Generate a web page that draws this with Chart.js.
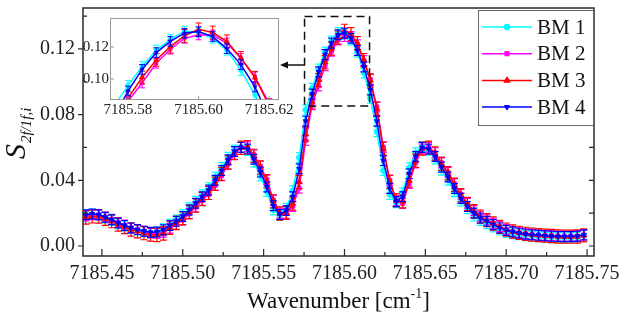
<!DOCTYPE html>
<html>
<head>
<meta charset="utf-8">
<script src="https://cdn.jsdelivr.net/npm/chart.js@4.4.1/dist/chart.umd.min.js"></script>
<style>
  html, body { margin: 0; padding: 0; background: #fff; }
  #wrap { position: relative; width: 622px; height: 320px; }
  #inset { position: absolute; left: 70px; top: 10px; }
</style>
</head>
<body>
<div id="wrap">
  <canvas id="main" width="622" height="320"></canvas>
  <canvas id="inset" width="234" height="115"></canvas>
</div>
<script>
/* globals Chart:false */
const wavenumber = [
  7185.440, 7185.444, 7185.448, 7185.452, 7185.456, 7185.460, 7185.464, 7185.468, 7185.472, 7185.476,
  7185.480, 7185.484, 7185.488, 7185.492, 7185.496, 7185.500, 7185.504, 7185.508, 7185.512, 7185.516,
  7185.520, 7185.524, 7185.528, 7185.532, 7185.536, 7185.540, 7185.544, 7185.548, 7185.552, 7185.556,
  7185.560, 7185.564, 7185.568, 7185.572, 7185.576, 7185.580, 7185.584, 7185.588, 7185.592, 7185.596,
  7185.600, 7185.604, 7185.608, 7185.612, 7185.616, 7185.620, 7185.624, 7185.628, 7185.632, 7185.636,
  7185.640, 7185.644, 7185.648, 7185.652, 7185.656, 7185.660, 7185.664, 7185.668, 7185.672, 7185.676,
  7185.680, 7185.684, 7185.688, 7185.692, 7185.696, 7185.700, 7185.704, 7185.708, 7185.712, 7185.716,
  7185.720, 7185.724, 7185.728, 7185.732, 7185.736, 7185.740, 7185.744, 7185.748
];
const bm1 = [
  .0192, .0195, .0187, .0171, .0155, .0135, .0121, .0106, .0097, .0087,
  .0082, .0087, .0104, .0133, .0158, .0191, .0232, .0272, .0312, .0355,
  .0418, .0478, .0540, .0584, .0602, .0581, .0510, .0426, .0332, .0220,
  .0186, .0230, .0336, .0539, .0829, .0960, .1078, .1181, .1248, .1300,
  .1290, .1254, .1180, .1054, .0900, .0696, .0459, .0314, .0263, .0324,
  .0476, .0568, .0606, .0583, .0530, .0462, .0401, .0331, .0274, .0227,
  .0182, .0155, .0136, .0116, .0097, .0083, .0074, .0068, .0063, .0059,
  .0056, .0053, .0051, .0050, .0049, .0050, .0053, .0063
];
const bm2 = [
  .0183, .0190, .0190, .0177, .0163, .0143, .0127, .0111, .0100, .0089,
  .0079, .0076, .0084, .0108, .0132, .0159, .0197, .0237, .0277, .0313,
  .0368, .0428, .0498, .0557, .0600, .0604, .0555, .0486, .0403, .0280,
  .0200, .0198, .0241, .0352, .0642, .0860, .0975, .1098, .1186, .1254,
  .1275, .1275, .1225, .1129, .1014, .0847, .0602, .0399, .0276, .0259,
  .0381, .0506, .0591, .0601, .0568, .0507, .0449, .0379, .0315, .0260,
  .0216, .0181, .0159, .0139, .0118, .0101, .0089, .0081, .0075, .0070,
  .0066, .0064, .0062, .0060, .0059, .0059, .0060, .0066
];
const bm3 = [
  .0173, .0180, .0179, .0165, .0151, .0131, .0115, .0100, .0089, .0078,
  .0069, .0067, .0076, .0111, .0140, .0168, .0206, .0246, .0286, .0323,
  .0379, .0439, .0508, .0565, .0598, .0601, .0549, .0478, .0393, .0272,
  .0198, .0202, .0258, .0390, .0680, .0880, .1010, .1119, .1202, .1269,
  .1310, .1290, .1235, .1132, .1008, .0835, .0592, .0392, .0279, .0272,
  .0398, .0519, .0593, .0599, .0563, .0501, .0443, .0373, .0309, .0256,
  .0212, .0179, .0157, .0137, .0116, .0100, .0088, .0080, .0074, .0069,
  .0066, .0063, .0061, .0058, .0057, .0057, .0058, .0065
];
const bm4 = [
  .0190, .0195, .0190, .0175, .0160, .0140, .0125, .0110, .0100, .0090,
  .0083, .0085, .0098, .0125, .0150, .0180, .0220, .0260, .0300, .0340,
  .0400, .0460, .0525, .0575, .0600, .0590, .0528, .0450, .0360, .0245,
  .0192, .0216, .0300, .0470, .0760, .0925, .1060, .1165, .1235, .1286,
  .1296, .1265, .1190, .1090, .0950, .0760, .0520, .0350, .0270, .0300,
  .0440, .0545, .0600, .0590, .0545, .0480, .0420, .0350, .0290, .0240,
  .0200, .0170, .0150, .0130, .0110, .0095, .0085, .0078, .0072, .0068,
  .0065, .0062, .0060, .0058, .0057, .0058, .0060, .0068
];
const seriesNames = ['BM 1', 'BM 2', 'BM 3', 'BM 4'];
const seriesErr = [0.003, 0.003, 0.004, 0.003];
const xTicks = [7185.45, 7185.50, 7185.55, 7185.60, 7185.65, 7185.70, 7185.75];
const yTicks = [0.00, 0.04, 0.08, 0.12];
const insetXTicks = [7185.58, 7185.60, 7185.62];
const insetYTicks = [0.10, 0.12];

const values = [bm1, bm2, bm3, bm4];
const colors = ['#00ffff', '#ff00ff', '#ff0000', '#0000ff'];
const markers = ['circle', 'rect', 'triangle', 'triangle'];
const markerRot = [0, 0, 0, 180];
const serif = '"Liberation Serif", "Times New Roman", serif';

function buildDatasets(r, lw) {
  return values.map((vals, i) => ({
    label: seriesNames[i],
    data: vals.map((v, j) => ({ x: wavenumber[j], y: v })),
    borderColor: colors[i],
    backgroundColor: colors[i],
    borderWidth: lw,
    pointStyle: markers[i],
    pointRotation: markerRot[i],
    pointRadius: i === 2 ? r + 0.6 : r,
    pointBorderWidth: 1,
    errBar: seriesErr[i],
    order: 4 - i,
    tension: 0,
    clip: 0
  }));
}

// vertical error bars, drawn right after each dataset
const errorBars = {
  id: 'errorBars',
  afterDatasetDraw(chart, args, opts) {
    const ds = chart.data.datasets[args.index];
    const ys = chart.scales.y, area = chart.chartArea, ctx = chart.ctx;
    ctx.save();
    ctx.beginPath();
    ctx.rect(area.left, area.top, area.width, area.height);
    ctx.clip();
    ctx.strokeStyle = ds.borderColor;
    ctx.lineWidth = opts.width;
    ctx.beginPath();
    args.meta.data.forEach((pt, j) => {
      const v = ds.data[j].y;
      const t = ys.getPixelForValue(v + ds.errBar), b = ys.getPixelForValue(v - ds.errBar);
      ctx.moveTo(pt.x, t); ctx.lineTo(pt.x, b);
      ctx.moveTo(pt.x - opts.cap, t); ctx.lineTo(pt.x + opts.cap, t);
      ctx.moveTo(pt.x - opts.cap, b); ctx.lineTo(pt.x + opts.cap, b);
    });
    ctx.stroke();
    ctx.restore();
  }
};

function line(ctx, x1, y1, x2, y2) {
  ctx.moveTo(x1, y1); ctx.lineTo(x2, y2);
}

const mainDeco = {
  id: 'mainDeco',
  afterDraw(chart) {
    const ctx = chart.ctx, a = chart.chartArea;
    const xs = chart.scales.x, ys = chart.scales.y;
    ctx.save();
    // frame
    ctx.strokeStyle = '#2a2a2a';
    ctx.lineWidth = 1.5;
    ctx.strokeRect(a.left, a.top, a.width, a.height);
    ctx.lineWidth = 1.2;
    ctx.beginPath();
    xTicks.forEach((v, i) => {
      const px = xs.getPixelForValue(v);
      line(ctx, px, a.bottom, px, a.bottom - 7);
      if (i < xTicks.length - 1) {
        const mx = xs.getPixelForValue((v + xTicks[i + 1]) / 2);
        line(ctx, mx, a.bottom, mx, a.bottom - 4);
      }
    });
    yTicks.forEach((v, i) => {
      const py = ys.getPixelForValue(v);
      line(ctx, a.left, py, a.left - 5, py);
      const my = ys.getPixelForValue(v + 0.02);
      line(ctx, a.left, my, a.left + 4, my);
      line(ctx, a.right, py, a.right - 5, py);
      line(ctx, a.right, my, a.right - 5, my);
    });
    ctx.stroke();

    // zoom box and arrow
    ctx.strokeStyle = '#111';
    ctx.lineWidth = 1.5;
    ctx.setLineDash([8, 5]);
    const bx1 = xs.getPixelForValue(7185.5753), bx2 = xs.getPixelForValue(7185.6155);
    const by1 = ys.getPixelForValue(0.1398), by2 = ys.getPixelForValue(0.0852);
    ctx.strokeRect(bx1, by1, bx2 - bx1, by2 - by1);
    ctx.setLineDash([]);
    ctx.beginPath();
    line(ctx, bx1, 65, 286, 65);
    ctx.stroke();
    ctx.fillStyle = '#111';
    ctx.beginPath();
    ctx.moveTo(280, 65); ctx.lineTo(288, 61.5); ctx.lineTo(288, 68.5); ctx.closePath();
    ctx.fill();

    // legend
    ctx.fillStyle = '#fff';
    ctx.fillRect(478, 10, 115, 115);
    ctx.strokeStyle = '#666';
    ctx.lineWidth = 1;
    ctx.strokeRect(478.5, 10.5, 115, 115);
    seriesNames.forEach((name, i) => {
      const y = 27 + i * 26.7;
      ctx.strokeStyle = colors[i];
      ctx.fillStyle = colors[i];
      ctx.lineWidth = 1.5;
      ctx.beginPath();
      line(ctx, 482, y, 532, y);
      ctx.stroke();
      ctx.lineWidth = 1;
      Chart.helpers.drawPoint(ctx, { pointStyle: markers[i], rotation: markerRot[i], radius: i === 2 ? 3.6 : 3, borderWidth: 1 }, 507, y);
      ctx.fillStyle = '#111';
      ctx.font = '21px ' + serif;
      ctx.textAlign = 'left';
      ctx.textBaseline = 'middle';
      ctx.fillText(name, 537, y + 1);
    });

    // axis titles
    ctx.fillStyle = '#111';
    ctx.textBaseline = 'alphabetic';
    ctx.font = '23px ' + serif;
    const t1 = 'Wavenumber [cm', t3 = ']';
    const w1 = ctx.measureText(t1).width, w3 = ctx.measureText(t3).width;
    ctx.font = '14px ' + serif;
    const w2 = ctx.measureText('-1').width;
    let sx = (a.left + a.right) / 2 - (w1 + w2 + w3) / 2;
    ctx.font = '23px ' + serif;
    ctx.fillText(t1, sx, 308);
    ctx.font = '14px ' + serif;
    ctx.fillText('-1', sx + w1, 298);
    ctx.font = '23px ' + serif;
    ctx.fillText(t3, sx + w1 + w2, 308);

    ctx.translate(25, 159);
    ctx.rotate(-Math.PI / 2);
    ctx.font = 'italic 30px ' + serif;
    ctx.fillText('S', 0, 0);
    const ws = ctx.measureText('S').width;
    ctx.font = 'italic 15px ' + serif;
    ctx.fillText('2f/1f,i', ws + 1, 6);
    ctx.restore();
  }
};

const insetDeco = {
  id: 'insetDeco',
  beforeDatasetsDraw(chart) {
    const ctx = chart.ctx, a = chart.chartArea;
    ctx.save();
    ctx.fillStyle = '#fff';
    ctx.fillRect(a.left, a.top, a.width, a.height);
    ctx.restore();
  },
  afterDraw(chart) {
    const ctx = chart.ctx, a = chart.chartArea;
    const xs = chart.scales.x, ys = chart.scales.y;
    ctx.save();
    ctx.strokeStyle = '#999';
    ctx.lineWidth = 1;
    ctx.strokeRect(a.left + 0.5, a.top + 0.5, a.width - 1, a.height - 1);
    ctx.beginPath();
    insetXTicks.forEach(v => {
      const px = xs.getPixelForValue(v);
      line(ctx, px, a.bottom, px, a.bottom - 4);
    });
    insetYTicks.forEach(v => {
      const py = ys.getPixelForValue(v);
      line(ctx, a.left, py, a.left + 4, py);
    });
    ctx.stroke();
    ctx.restore();
  }
};

function tickList(list) {
  return s => { s.ticks = list.map(v => ({ value: v })); };
}
function fixSize(prop, size) {
  return s => {
    s[prop] = size;
    s.paddingTop = 0; s.paddingBottom = 0; s.paddingLeft = 0; s.paddingRight = 0;
  };
}

new Chart(document.getElementById('main'), {
  type: 'line',
  data: { datasets: buildDatasets(2.8, 1.5) },
  options: {
    responsive: false,
    animation: false,
    devicePixelRatio: 1,
    layout: { padding: { top: 8, right: 28, left: 0, bottom: 0 } },
    plugins: { legend: { display: false }, tooltip: { enabled: false }, errorBars: { cap: 3.5, width: 1.2 } },
    scales: {
      x: {
        type: 'linear', min: 7185.4383, max: 7185.7543,
        afterBuildTicks: tickList(xTicks),
        afterFit: fixSize('height', 64),
        grid: { display: false, drawTicks: false }, border: { display: false },
        ticks: { font: { family: serif, size: 20 }, color: '#222', padding: 6, maxRotation: 0, autoSkip: false,
          callback: v => v.toFixed(2) }
      },
      y: {
        min: -0.0061, max: 0.1449,
        afterBuildTicks: tickList(yTicks),
        afterFit: fixSize('width', 83),
        grid: { display: false, drawTicks: false }, border: { display: false },
        ticks: { font: { family: serif, size: 20 }, color: '#222', padding: 8,
          callback: v => v.toFixed(2) }
      }
    }
  },
  plugins: [errorBars, mainDeco]
});

new Chart(document.getElementById('inset'), {
  type: 'line',
  data: { datasets: buildDatasets(2.2, 1.5) },
  options: {
    responsive: false,
    animation: false,
    devicePixelRatio: 1,
    layout: { padding: { top: 8, right: 25, left: 0, bottom: 0 } },
    plugins: { legend: { display: false }, tooltip: { enabled: false }, errorBars: { cap: 3, width: 1 } },
    scales: {
      x: {
        type: 'linear', min: 7185.5749, max: 7185.6228,
        afterBuildTicks: tickList(insetXTicks),
        afterFit: fixSize('height', 25),
        grid: { display: false, drawTicks: false }, border: { display: false },
        ticks: { font: { family: serif, size: 15 }, color: '#222', padding: 1, maxRotation: 0, autoSkip: false,
          callback: v => v.toFixed(2) }
      },
      y: {
        min: 0.0869, max: 0.1381,
        afterBuildTicks: tickList(insetYTicks),
        afterFit: fixSize('width', 40),
        grid: { display: false, drawTicks: false }, border: { display: false },
        ticks: { font: { family: serif, size: 15 }, color: '#222', padding: 1,
          callback: v => v.toFixed(2) }
      }
    }
  },
  plugins: [errorBars, insetDeco]
});
</script>
</body>
</html>
